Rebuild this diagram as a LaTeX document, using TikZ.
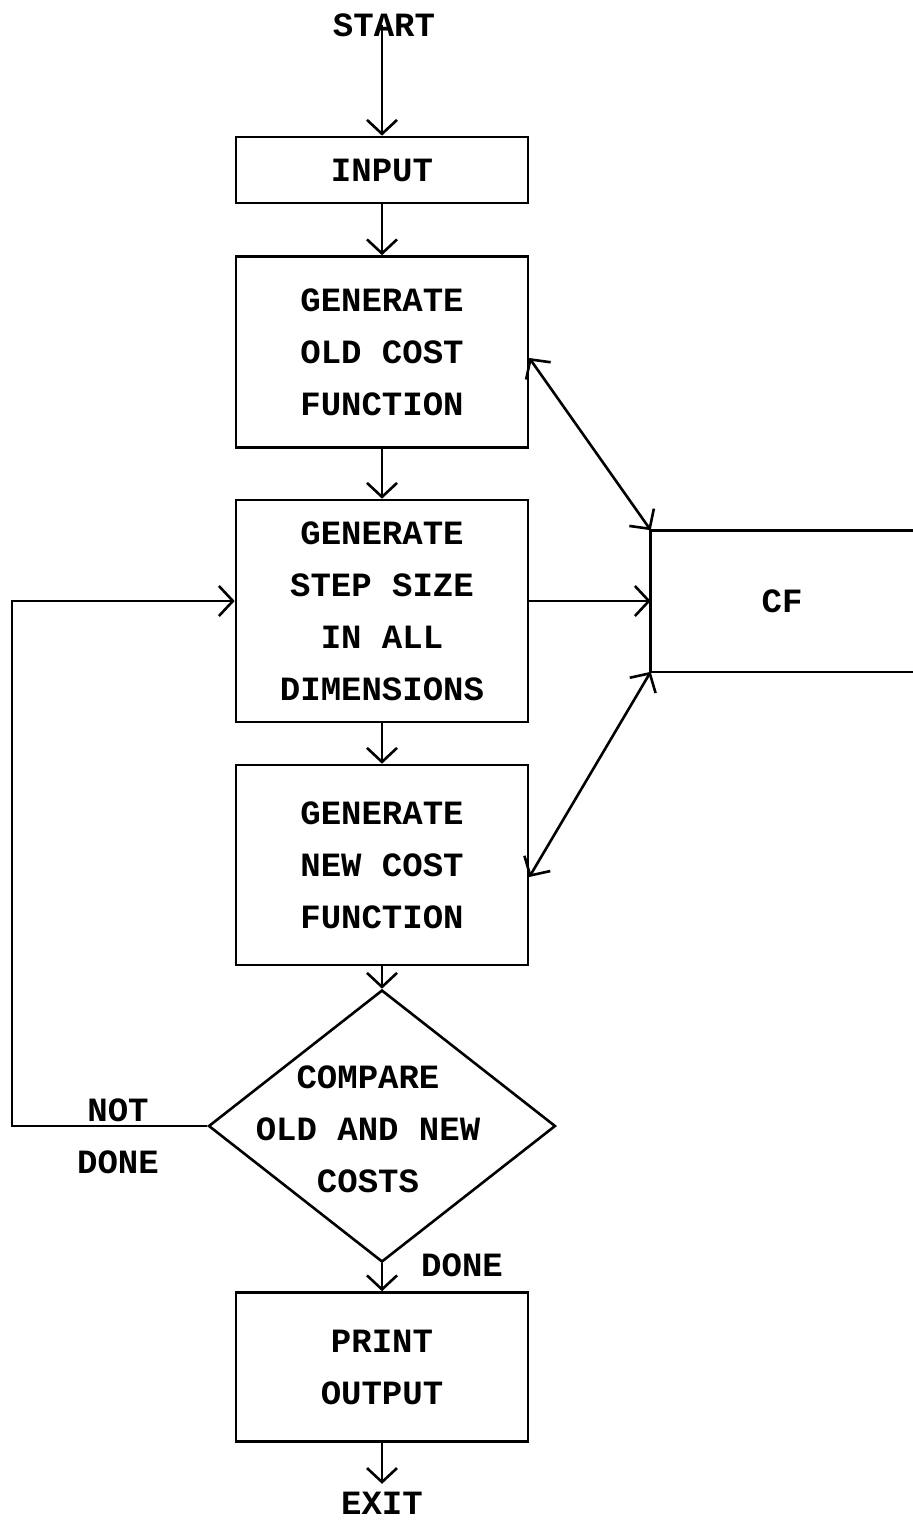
\documentclass[tikz,border=0pt]{standalone}
\usepackage{fontspec}
\setmonofont{Liberation Mono}
\usetikzlibrary{arrows.meta,shapes.geometric}

\begin{document}
\begin{tikzpicture}[x=0.5pt,y=-0.5pt,line width=1.3pt,
    font=\ttfamily\bfseries\fontsize{17}{26}\selectfont,
    box/.style={draw,rectangle,minimum width=146pt,align=center,inner sep=0pt},
    decision/.style={draw,diamond,minimum width=173.5pt,minimum height=136pt,inner sep=0pt},
    flow/.style={-{Straight Barb[length=7pt,width=15pt]}},
    both/.style={{Straight Barb[length=7pt,width=15pt]}-{Straight Barb[length=7pt,width=15pt]}}]
    % page frame
    \useasboundingbox (0,0) rectangle (912,1520);

    % set nodes
    \node (start) at (384,25) {START};
    \node [box,minimum height=33pt] (input) at (382,170) {INPUT};
    \node [box,minimum height=95.5pt] (old) at (382,352) {GENERATE\\OLD COST\\FUNCTION};
    \node [box,minimum height=111pt] (step) at (382,611) {GENERATE\\STEP SIZE\\IN ALL\\DIMENSIONS};
    \node [box,minimum height=100pt] (new) at (382,865) {GENERATE\\NEW COST\\FUNCTION};
    \node [decision] (cmp) at (382,1126) {};
    \node [align=center] (cmptext) at (368,1129) {COMPARE\\OLD AND NEW\\COSTS};
    \node [box,minimum height=74.5pt] (print) at (382,1367) {PRINT\\OUTPUT};
    \node (exit) at (382,1503) {EXIT};
    \node [minimum width=130pt,minimum height=69.5pt,inner sep=0pt] (cf) at (782,601) {CF};
    \coordinate (back) at (12,1126);

    % draw figure
    \draw (cf.north east) -- (cf.north west) -- (cf.south west) -- (cf.south east);
    \draw [flow] (input.north |- start.center) -- (input.north);
    \draw [flow] (input.south) -- (old.north);
    \draw [flow] (old.south) -- (step.north);
    \draw [flow] (step.south) -- (new.north);
    \draw [flow] (new.south) -- (cmp.north);
    \draw [flow] (cmp.south) -- (print.north);
    \draw [flow] (print.south) -- (exit.north);
    \draw [flow] (cf.west -| step.east) -- (cf.west);
    \draw [flow] (cmp.west) -- (back) |- (cf.west -| step.west);
    \draw [both] ([yshift=-3pt]old.east) -- (cf.north west);
    \draw [both] ([yshift=-6pt]new.east) -- (cf.south west);

    % add labels
    \node [align=center] at (118,1136) {NOT\\DONE};
    \node at (462,1265) {DONE};
\end{tikzpicture}
\end{document}
